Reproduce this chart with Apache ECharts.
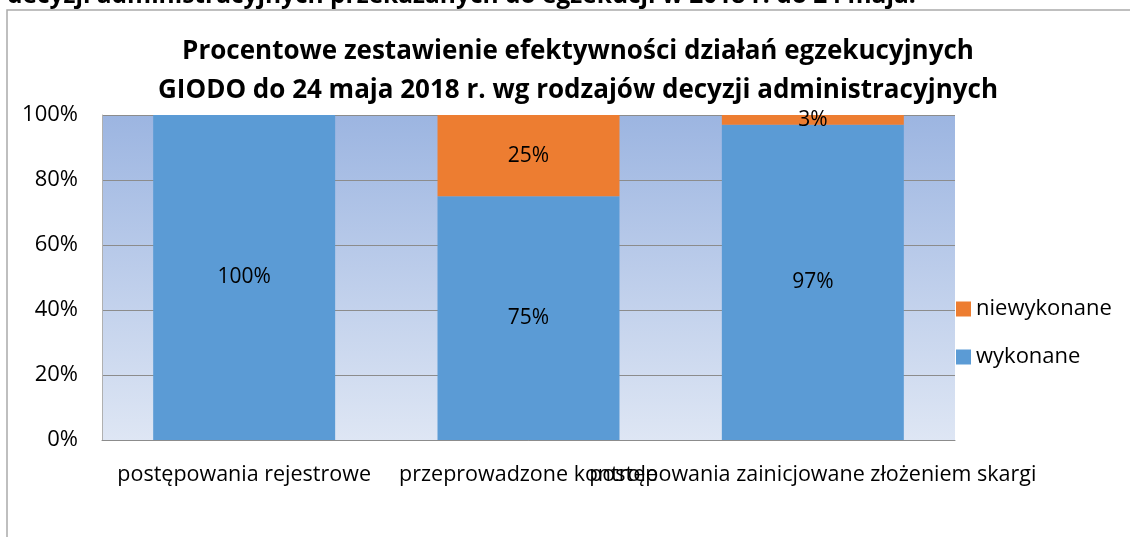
<!DOCTYPE html>
<html>
<head>
<meta charset="utf-8">
<script src="https://cdn.jsdelivr.net/npm/echarts@6/dist/echarts.min.js"></script>
<style>
  html, body { margin: 0; padding: 0; background: #fff; }
  #chart { width: 1130px; height: 537px; }
</style>
</head>
<body>
<div id="chart"></div>
<script>
const categories = ['postępowania rejestrowe', 'przeprowadzone kontrole', 'postępowania zainicjowane złożeniem skargi'];
const wykonane = [100, 75, 97];
const niewykonane = [0, 25, 3];
const yTicks = [0, 20, 40, 60, 80, 100];

const FONT = 'Open Sans';

let chart = echarts.init(document.getElementById('chart'));

function pctLabel(p) {
    return p.value > 0 ? p.value + '%' : '';
}

let option = {
    backgroundColor: '#fff',
    animation: false,
    textStyle: { fontFamily: FONT },
    title: {
        text: 'Procentowe zestawienie efektywności działań egzekucyjnych\nGIODO do 24 maja 2018 r. wg rodzajów decyzji administracyjnych',
        left: 573,
        textAlign: 'center',
        top: 27,
        textStyle: {
            fontFamily: FONT,
            fontWeight: 'bold',
            fontSize: 26,
            lineHeight: 39,
            color: '#000'
        }
    },
    graphic: [
        {
            type: 'rect',
            shape: { x: 7, y: 10, width: 1200, height: 600 },
            style: { fill: 'none', stroke: '#ababab', lineWidth: 1.5 },
            silent: true
        },
        {
            type: 'text',
            left: 7,
            top: -16,
            style: {
                text: 'decyzji administracyjnych przekazanych do egzekucji w 2018 r. do 24 maja.',
                fontFamily: FONT,
                fontWeight: 'bold',
                fontSize: 24.5,
                fill: '#000'
            }
        }
    ],
    legend: {
        orient: 'vertical',
        left: 951,
        top: 293,
        itemWidth: 15,
        itemHeight: 15,
        itemGap: 26,
        itemTextGap: 3,
        icon: 'rect',
        data: ['niewykonane', 'wykonane'],
        textStyle: { fontFamily: FONT, fontSize: 22, color: '#000' }
    },
    grid: {
        left: 102,
        right: 175,
        top: 115,
        bottom: 97,
        show: true,
        borderWidth: 0,
        backgroundColor: {
            type: 'linear', x: 0, y: 0, x2: 0, y2: 1,
            colorStops: [
                { offset: 0, color: '#9cb5e1' },
                { offset: 1, color: '#dee6f4' }
            ]
        }
    },
    xAxis: {
        type: 'category',
        data: categories,
        axisTick: { show: false },
        axisLine: { lineStyle: { color: '#8c8c8c' } },
        axisLabel: {
            interval: 0,
            color: '#000',
            fontFamily: FONT,
            fontSize: 21.5,
            margin: 24
        }
    },
    yAxis: {
        type: 'value',
        min: 0,
        max: 100,
        interval: 20,
        axisLine: { show: true, lineStyle: { color: '#b0b0b0' } },
        axisTick: { show: false },
        splitLine: { lineStyle: { color: '#8c8c8c', width: 1 } },
        axisLabel: {
            color: '#000',
            fontFamily: FONT,
            fontSize: 22,
            margin: 24,
            formatter: function (v) { return yTicks.indexOf(v) >= 0 ? v + '%' : ''; }
        }
    },
    series: [
        {
            name: 'wykonane',
            type: 'bar',
            stack: 'all',
            barWidth: '64%',
            data: wykonane,
            itemStyle: { color: '#5b9bd5' },
            label: {
                show: true,
                position: 'inside',
                color: '#000',
                fontFamily: FONT,
                fontSize: 21,
                formatter: pctLabel
            }
        },
        {
            name: 'niewykonane',
            type: 'bar',
            stack: 'all',
            barWidth: '64%',
            data: niewykonane,
            itemStyle: { color: '#ed7d31' },
            label: {
                show: true,
                position: 'inside',
                color: '#000',
                fontFamily: FONT,
                fontSize: 21,
                formatter: pctLabel
            }
        }
    ]
};

chart.setOption(option);
</script>
</body>
</html>
